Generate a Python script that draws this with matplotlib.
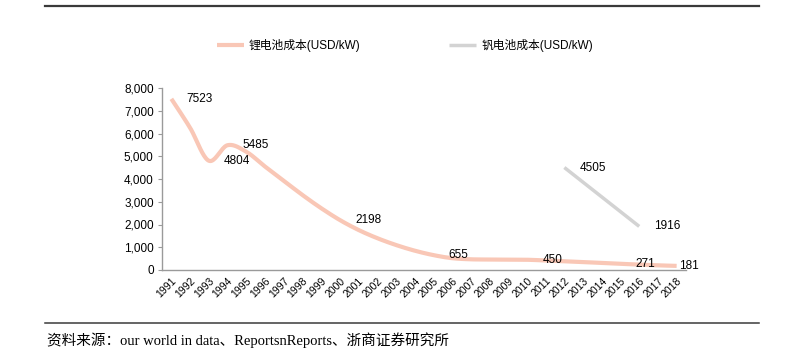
import numpy as np
import matplotlib
matplotlib.use('Agg')
import matplotlib.pyplot as plt
from matplotlib.ticker import FuncFormatter

plt.rcParams['font.family'] = ['Liberation Sans', 'Noto Sans CJK SC', 'DejaVu Sans']

# --- dane ---
lata = list(range(1991, 2019))
lit = [7523, 6250, 4804, 5485, 5200, 4550, 3925, 3300, 2720, 2198,
       1760, 1400, 1100, 850, 655, 520, 470, 460, 455, 450,
       420, 390, 350, 310, 271, 240, 205, 181]
lit_opisy = [1991, 1993, 1994, 2000, 2005, 2010, 2015, 2018]
wan_lata = [2012, 2016]
wan = [4505, 1916]

nazwa_lit = '锂电池成本(USD/kW)'
nazwa_wan = '钒电池成本(USD/kW)'
zrodlo = '资料来源：our world in data、ReportsnReports、浙商证券研究所'

KOLOR_LIT = '#F9C7B6'
KOLOR_WAN = '#D3D3D3'


def wygladz(x, y, n=20):
    # krzywa Hermite'a (jak "wygładzona linia" w Excelu)
    x = np.asarray(x, float)
    y = np.asarray(y, float)
    m = np.gradient(y, x)
    xs, ys = [], []
    for i in range(len(x) - 1):
        h = x[i + 1] - x[i]
        t = np.linspace(0, 1, n, endpoint=False)
        h00 = 2 * t**3 - 3 * t**2 + 1
        h10 = t**3 - 2 * t**2 + t
        h01 = -2 * t**3 + 3 * t**2
        h11 = t**3 - t**2
        xs.append(x[i] + t * h)
        ys.append(h00 * y[i] + h10 * h * m[i] + h01 * y[i + 1] + h11 * h * m[i + 1])
    xs.append([x[-1]])
    ys.append([y[-1]])
    return np.concatenate(xs), np.concatenate(ys)


fig = plt.figure(figsize=(8, 3.59), dpi=100)
ax = fig.add_axes([162 / 800, 1 - 270 / 359, (686 - 162) / 800, (270 - 88) / 359])

idx = np.arange(len(lata))
sx, sy = wygladz(idx, lit)
ax.plot(sx, sy, color=KOLOR_LIT, lw=3, solid_capstyle='butt', label=nazwa_lit)
wx = [lata.index(r) for r in wan_lata]
ax.plot(wx, wan, color=KOLOR_WAN, lw=2.5, solid_capstyle='butt', label=nazwa_wan)

for r in lit_opisy:
    i = lata.index(r)
    dx = 2 if r == 2018 else 11
    ax.annotate(str(lit[i]), (i, lit[i]), xytext=(dx, 0), textcoords='offset points',
                ha='left', va='center', fontsize=8.5, color='black')
for i, v in zip(wx, wan):
    ax.annotate(str(v), (i, v), xytext=(11, 0), textcoords='offset points',
                ha='left', va='center', fontsize=8.5, color='black')

ax.set_xlim(-0.5, len(lata) - 0.5)
ax.set_ylim(0, 8000)
ax.set_yticks(range(0, 8001, 1000))
ax.yaxis.set_major_formatter(FuncFormatter(lambda v, p: f'{int(v):,}'))
ax.set_xticks(idx)
ax.set_xticklabels([str(r) for r in lata], rotation=45, ha='right',
                   rotation_mode='anchor', fontsize=7.5)

for s in ['top', 'right']:
    ax.spines[s].set_visible(False)
for s in ['left', 'bottom']:
    ax.spines[s].set_color('#9A9A9A')
    ax.spines[s].set_linewidth(1)
ax.tick_params(axis='y', length=3, color='#9A9A9A', labelsize=8.5, pad=3)
ax.tick_params(axis='x', length=0, pad=4)

fig.legend(loc='center', bbox_to_anchor=(405 / 800, 1 - 46 / 359), ncol=2, frameon=False,
           fontsize=8.5, handlelength=2.3, handletextpad=0.4, columnspacing=7.5)

# linie ramki raportu
fig.add_artist(plt.Line2D([45 / 800, 759 / 800], [1 - 6 / 359] * 2, color='#3A3A3A', lw=1.6))
fig.add_artist(plt.Line2D([45 / 800, 759 / 800], [1 - 323 / 359] * 2, color='#3A3A3A', lw=1.1))
fig.text(47 / 800, 1 - 340 / 359, zrodlo, fontsize=10.5, va='center', ha='left',
         family=['Liberation Serif', 'Noto Sans CJK SC'])

fig.savefig('out.png', dpi=100)
